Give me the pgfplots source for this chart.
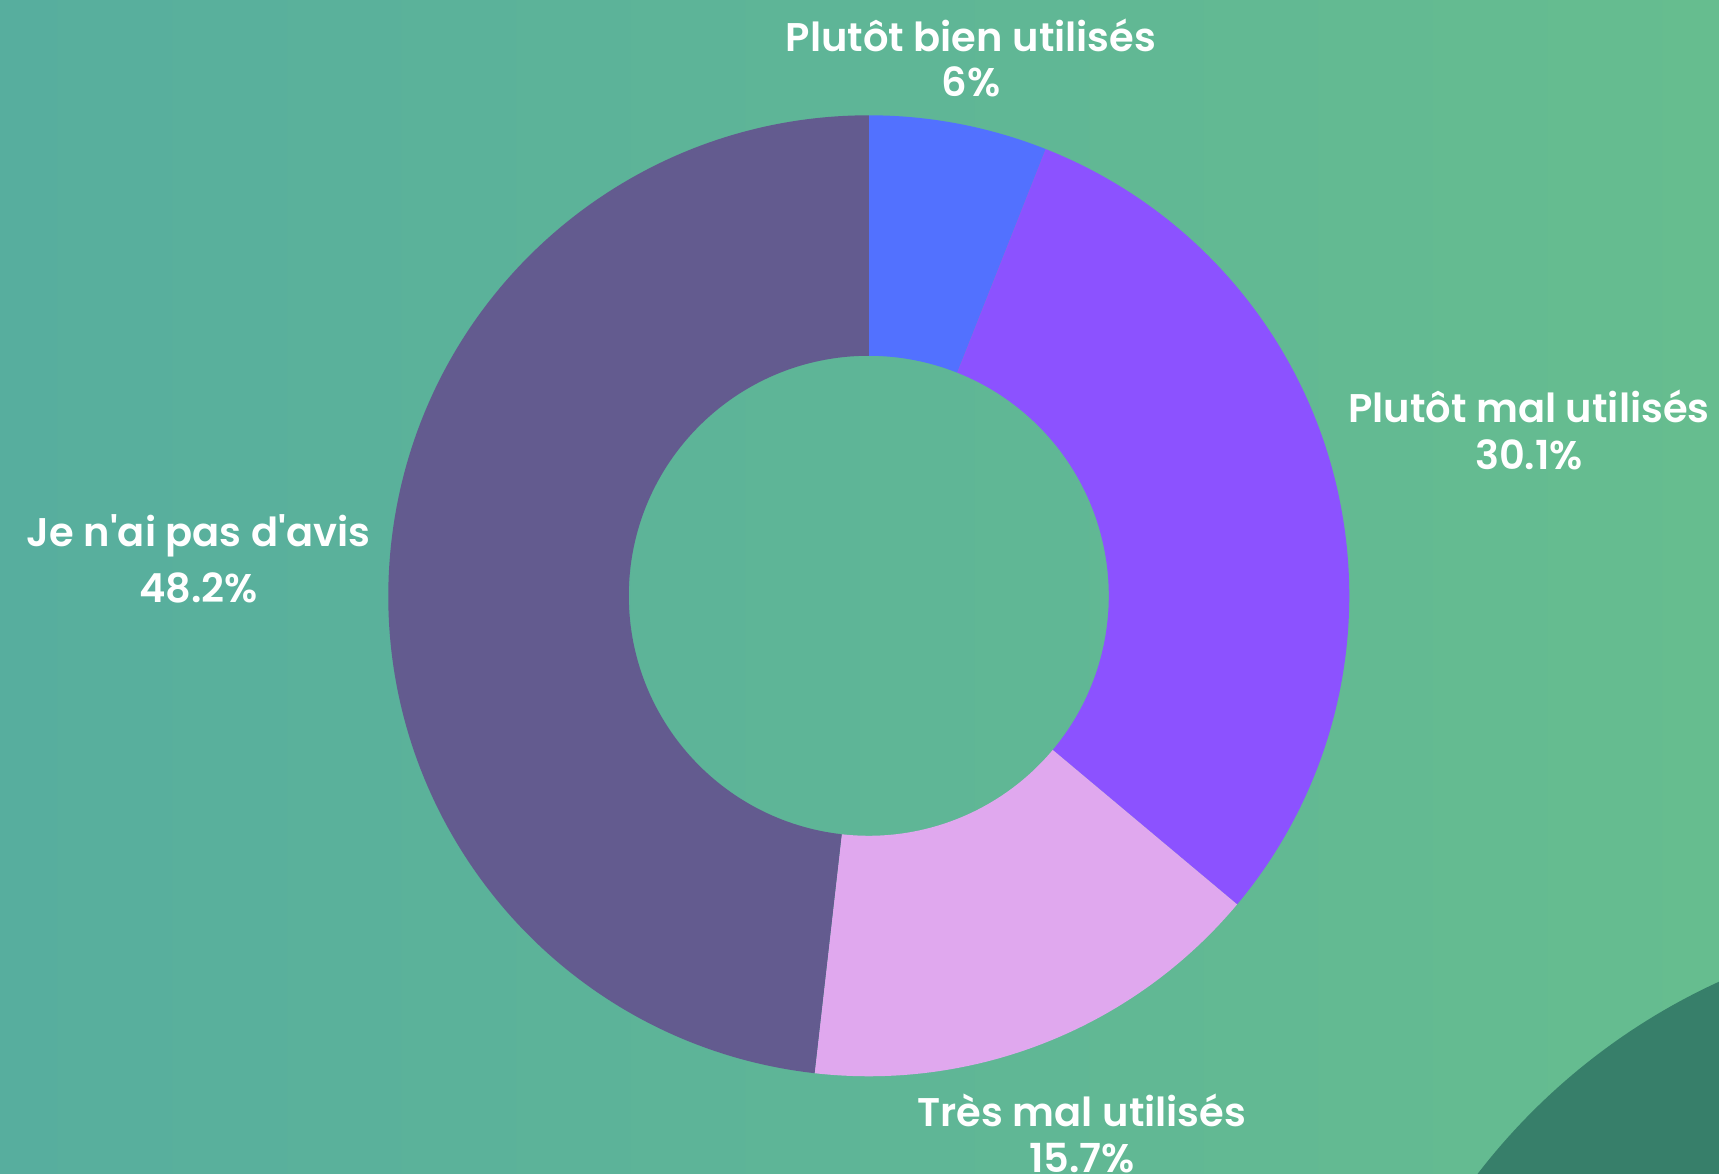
\documentclass[border=0pt]{standalone}
\usepackage{pgfplots}
\pgfplotsset{compat=1.18}
\usetikzlibrary{calc}
\usepackage{fontspec}
\setmainfont{Poppins}[BoldFont={Poppins SemiBold}]
\definecolor{bgL}{HTML}{57AE9E}
\definecolor{bgR}{HTML}{66BD8F}
\definecolor{blob}{HTML}{377F6A}
\definecolor{cA}{HTML}{5271FF}
\definecolor{cB}{HTML}{8C52FF}
\definecolor{cC}{HTML}{E0A8EE}
\definecolor{cD}{HTML}{635B8F}
% data (percent)
\def\vA{6}    % Plutôt bien utilisés
\def\vB{30.1} % Plutôt mal utilisés
\def\vC{15.7} % Très mal utilisés
\def\vD{48.2} % Je n'ai pas d'avis
\pgfmathsetmacro\aA{90}
\pgfmathsetmacro\aB{\aA-3.6*\vA}
\pgfmathsetmacro\aC{\aB-3.6*\vB}
\pgfmathsetmacro\aD{\aC-3.6*\vC}
\pgfmathsetmacro\aE{\aD-3.6*\vD}
\def\R{480.5}
\def\r{240}
\newcommand\slice[3]{%
  \fill[#3] ($(c)+(#1:\R pt)$) arc[start angle=#1, end angle=#2, radius=\R pt]
    -- ($(c)+(#2:\r pt)$) arc[start angle=#2, end angle=#1, radius=\r pt] -- cycle;}
\begin{document}
\begin{tikzpicture}
\useasboundingbox (0,0) rectangle (1719pt,1174pt);
\clip (0,0) rectangle (1719pt,1174pt);
\fill[left color=bgL, right color=bgR] (0,0) rectangle (1719pt,1174pt);
\fill[blob] (1985pt,-390pt) circle[radius=640pt];
\begin{axis}[at={(0,0)}, anchor=origin, x=1pt, y=1pt,
  xmin=0, xmax=1719, ymin=0, ymax=1174, hide axis, clip=false]
  \coordinate (c) at (axis cs:868.8,578.2);
  \slice{\aA}{\aB}{cA}
  \slice{\aB}{\aC}{cB}
  \slice{\aC}{\aD}{cC}
  \slice{\aD}{\aE}{cD}
  \begin{scope}[every node/.style={text=white, font=\fontsize{40}{48}\selectfont\bfseries, anchor=base, inner sep=0pt}]
  \node at (axis cs:971,1122) {Plutôt bien utilisés};
  \node at (axis cs:971,1077) {\vA\%};
  \node at (axis cs:1529,751) {Plutôt mal utilisés};
  \node at (axis cs:1529,704) {\vB\%};
  \node at (axis cs:198.5,627) {Je n\textquotesingle ai pas d\textquotesingle avis};
  \node at (axis cs:198.5,571) {\vD\%};
  \node at (axis cs:1082,47) {Très mal utilisés};
  \node at (axis cs:1082,1) {\vC\%};
  \end{scope}
\end{axis}
\end{tikzpicture}
\end{document}
